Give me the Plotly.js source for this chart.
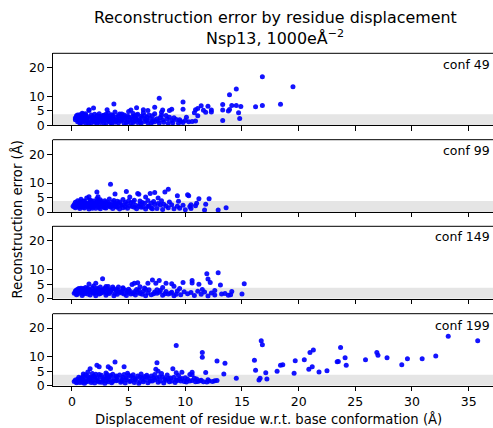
<!DOCTYPE html>
<html>
<head>
<meta charset="utf-8">
<script src="https://cdn.plot.ly/plotly-3.0.1.min.js"></script>
<style>html,body{margin:0;padding:0;overflow:hidden;background:#fff;}</style>
</head>
<body>
<div id="chart" style="width:493px;height:428px;"></div>
<script>
const confLabels = ["conf 49", "conf 99", "conf 149", "conf 199"];
const xTickVals = [0, 5, 10, 15, 20, 25, 30, 35];
const yTickVals = [0, 5, 10, 20];
const bandTop = 3.8;

const conf49Points = [
[0.3,1.9],[0.5,1.2],[0.7,0.8],[0.9,1.5],[1.2,0.6],[1.4,1.1],[1.7,0.9],[1.9,1.4],[2.2,0.7],[2.5,1.0],[2.7,1.6],[3.0,0.8],[3.3,1.3],[3.5,0.5],[3.8,1.1],[4.1,0.9],[4.3,1.5],[4.6,0.7],[4.9,1.2],[5.2,0.8],[5.5,1.4],[5.8,1.0],[6.1,0.6],[6.4,1.3],[6.7,0.9],[7.0,0.7],[7.3,1.2],[7.7,0.8],[8.1,1.1],[8.5,0.6],[8.9,0.9],[9.4,0.7],[9.8,1.0],
[0.4,2.8],[0.6,2.3],[0.8,3.1],[1.1,2.0],[1.3,2.6],[1.6,2.2],[1.8,3.0],[2.1,2.4],[2.3,1.9],[2.6,2.7],[2.9,2.1],[3.1,3.2],[3.4,2.5],[3.6,2.0],[3.9,2.9],[4.2,2.3],[4.4,2.6],[4.7,2.0],[5.0,2.8],[5.3,2.2],[5.6,2.5],[5.9,1.9],[6.2,2.7],[6.5,2.1],[6.9,2.4],[7.2,1.8],[7.5,2.3],[8.0,1.9],[8.4,2.2],[8.8,1.7],[9.2,2.0],
[0.5,3.6],[0.9,4.2],[1.2,3.4],[1.5,5.1],[2.0,3.8],[2.4,4.0],[2.8,3.5],[3.2,4.3],[3.5,3.7],[3.8,4.6],[4.2,3.9],[4.6,3.6],[5.0,4.8],[5.4,4.1],[5.8,3.8],[6.3,4.4],[6.8,3.6],[7.3,4.0],[7.9,3.5],
[1.5,5.4],[1.9,6.0],[3.1,5.4],[5.7,6.1],[6.3,5.4],[6.7,5.1],[1.2,4.0],[5.2,5.3],[3.7,7.4],
[1.0,2.9],[2.0,1.1],[3.0,2.6],[4.0,1.8],[4.5,3.1],[5.5,3.2],[6.0,1.5],[7.8,2.7],[8.3,3.4],[9.6,1.4],[10.3,1.2],[0.7,2.1],[2.4,3.1],[3.3,1.7],
[0.6,1.6],[0.8,0.9],[1.0,1.3],[1.3,1.8],[1.5,0.8],[1.8,2.0],[2.0,1.6],[2.3,1.2],[2.6,2.0],[2.8,0.7],[3.1,1.9],[3.4,1.0],[3.7,2.2],[3.9,1.4],[4.4,1.9],[4.8,0.9],[5.1,1.8],[5.4,1.0],[5.7,2.1],[6.0,1.2],[6.6,1.7],[7.1,1.3],[7.6,1.6],
[0.4,3.3],[0.7,3.7],[1.0,3.9],[1.4,3.0],[1.7,3.6],[2.2,3.3],[2.5,2.3],[3.0,3.8],[3.3,2.9],[3.6,3.4],[4.1,3.3],[4.4,3.9],[4.9,3.3],[5.3,2.9],[5.7,3.5],[6.1,3.1],[6.6,2.8],[7.1,3.3],[8.6,2.8],[9.0,2.6],[9.5,1.9],[10.0,1.7],[0.3,2.5],[0.9,2.6],[1.9,2.6],[2.7,3.3],[4.7,2.6],[6.4,3.4],
[16.8,16.9],[19.5,13.4],[14.5,12.6],[13.9,10.6],[9.8,8.1],[7.7,9.4],[18.4,7.3],[16.8,6.9],[16.2,6.4],[14.9,6.5],[14.5,6.9],[14.1,6.9],[13.3,7.2],[13.3,5.3],[13.8,5.0],[13.9,5.5],[14.7,4.4],[14.8,2.4],[13.3,1.7],[11.4,6.8],[12.0,6.6],[11.6,5.2],[11.8,4.5],[12.3,5.3],[12.3,4.6],[10.9,5.4],[11.1,5.8],[10.8,4.4],[11.1,3.3],[10.9,1.5],[10.6,1.3],[9.8,5.6],[10.1,2.8],[8.8,5.6],[8.6,5.1],[7.9,4.5],[8.0,5.3],[7.3,6.3]
];

const conf99Points = [
[0.1,2.0],[0.3,1.5],[0.5,2.3],[0.7,1.2],[0.9,1.8],[1.1,1.4],[1.3,2.1],[1.5,1.0],[1.7,1.6],[1.9,2.2],[2.1,1.3],[2.3,1.9],[2.5,1.1],[2.8,1.7],[3.0,1.4],[3.3,2.0],[3.6,1.2],[3.9,1.8],[4.2,1.0],[4.5,1.5],[4.9,1.3],[5.3,1.9],[5.7,1.1],[6.1,1.6],[6.5,1.0],[7.0,1.4],[7.5,1.2],[8.0,0.9],[8.5,1.5],[9.0,1.1],[9.5,1.3],[10.0,0.8],[10.5,1.2],
[0.2,2.6],[0.4,3.0],[0.6,2.8],[0.8,3.3],[1.0,2.5],[1.2,3.1],[1.4,2.7],[1.6,3.4],[1.8,2.9],[2.0,3.2],[2.2,2.6],[2.4,3.5],[2.7,3.0],[2.9,2.7],[3.2,3.3],[3.5,2.4],[3.8,2.9],[4.1,3.1],[4.4,2.5],[4.8,2.8],[5.2,3.2],[5.6,2.3],[6.0,2.7],[6.4,3.0],[6.8,2.2],[7.3,2.6],[7.8,2.4],[8.3,2.1],[8.8,2.5],[9.3,2.0],[9.8,2.3],[10.4,1.9],[10.9,2.2],
[0.5,3.9],[0.8,4.4],[1.0,3.7],[1.3,4.8],[1.6,4.1],[1.9,3.8],[2.2,4.6],[2.5,4.2],[2.9,3.9],[3.3,4.5],[3.7,4.0],[4.0,3.7],[4.5,4.3],[5.0,3.9],[5.5,4.1],[6.0,3.8],[6.7,4.0],[7.2,3.6],[7.9,3.9],[8.6,3.5],[9.4,3.7],
[0.2,1.8],[0.4,2.1],[0.6,1.6],[0.8,2.0],[1.0,1.6],[1.2,2.3],[1.4,1.7],[1.6,2.4],[1.8,1.3],[2.0,1.9],[2.2,2.3],[2.4,1.6],[2.6,2.1],[2.9,1.5],[3.1,2.4],[3.4,1.7],[3.7,2.2],[4.0,1.6],[4.3,2.3],[4.7,1.8],[5.1,2.2],[5.5,1.6],[5.9,2.0],[6.3,1.7],[6.7,1.9],[7.1,1.1],
[0.3,3.4],[0.7,3.6],[0.9,2.9],[1.1,3.8],[1.5,3.0],[1.7,3.9],[2.1,3.0],[2.3,4.0],[2.6,3.6],[3.0,3.4],[3.6,3.5],[4.2,3.5],[4.7,3.4],[5.4,3.5],[6.2,3.3],[7.0,3.0],[7.6,2.9],[8.1,2.7],[0.5,2.6],[1.3,2.9],[1.9,2.5],[2.5,2.8],[3.3,2.8],[3.9,2.5],
[3.4,9.6],[4.8,7.1],[8.5,7.9],[8.2,6.9],[2.2,6.9],[3.8,6.25],[5.8,6.4],[5.9,6.1],[6.9,6.4],[7.3,6.7],[10.2,6.0],[10.3,5.6],[9.3,5.6],[11.2,4.6],[12.1,4.6],[11.8,2.7],[12.9,0.7],[13.6,1.5],[11.7,0.7],[1.5,5.3],[2.3,5.3],[5.1,5.2],[6.5,5.2],[7.6,4.8],[11.0,3.0],[10.5,2.5]
];

const conf149Points = [
[0.2,1.9],[0.4,1.4],[0.6,2.2],[0.9,1.1],[1.1,1.7],[1.4,2.4],[1.6,1.3],[1.9,1.9],[2.1,1.0],[2.4,1.6],[2.7,2.1],[3.0,1.2],[3.3,1.8],[3.7,1.0],[4.0,1.5],[4.4,2.0],[4.8,1.1],[5.2,1.6],[5.6,1.3],[6.0,1.8],[6.5,1.0],[7.0,1.4],[7.5,1.9],[8.0,1.2],[8.5,1.6],[9.0,1.0],[9.6,1.4],[10.2,1.7],[10.8,1.1],[11.4,1.5],[12.0,0.9],[12.6,1.3],[13.2,1.6],[13.8,1.2],
[0.3,2.7],[0.5,3.2],[0.8,2.9],[1.0,3.5],[1.3,2.6],[1.5,3.1],[1.8,3.7],[2.0,2.8],[2.3,3.3],[2.6,3.0],[2.9,3.6],[3.2,2.7],[3.5,3.2],[3.9,2.9],[4.3,2.5],[4.7,3.0],[5.1,2.7],[5.5,2.4],[5.9,2.9],[6.3,2.6],[6.8,3.1],[7.3,2.3],[7.8,2.8],[8.3,2.5],[8.8,2.2],[9.3,2.7],[9.9,2.4],[10.5,2.1],[11.1,2.6],[11.7,2.3],[12.3,2.0],
[0.3,2.1],[0.5,1.6],[0.7,2.5],[0.9,1.9],[1.2,2.2],[1.4,1.6],[1.7,2.3],[2.0,2.0],[2.2,2.4],[2.5,1.8],[2.8,2.5],[3.1,1.9],[3.4,2.3],[3.8,1.8],[4.2,2.2],[4.6,1.6],[5.0,2.1],[5.4,1.8],[5.8,2.2],[6.2,1.5],[6.7,2.0],[7.2,1.7],[7.7,2.2],[8.2,1.7],[8.7,1.9],[9.2,1.5],
[0.4,3.0],[0.6,3.5],[1.1,3.1],[1.4,3.6],[1.6,2.9],[2.2,3.6],[2.4,2.9],[2.8,3.2],[3.1,3.5],[3.4,2.9],[3.7,3.4],[4.0,3.2],[4.5,3.4],[5.0,3.3],[5.7,3.2],[6.5,3.3],[7.5,3.1],[0.8,2.4],[1.9,2.7],[2.6,2.3],[3.3,2.6],[4.9,2.5],
[1.5,5.1],[2.1,5.3],[2.7,6.9],[3.0,4.2],[3.2,4.2],[1.9,4.4],[2.5,4.0],[3.6,4.0],[5.8,5.5],[5.3,4.9],[5.5,5.3],[6.0,4.1],[6.7,5.3],[7.1,6.5],[7.4,5.3],[7.7,6.3],[8.3,5.3],[8.8,5.2],[9.0,4.3],[9.8,5.6],[10.6,6.3],[10.6,5.4],[11.2,5.0],[11.9,8.6],[12.9,9.0],[12.0,6.8],[12.2,5.6],[13.1,4.7],[15.2,5.2],[15.0,1.6],[14.1,2.5],[4.5,3.8],[1.2,3.9],[0.8,3.6],[4.1,4.0],[6.4,3.7],[8.0,3.9],[9.5,3.5],[11.5,3.2],[12.6,2.8],[13.5,1.8],[14.0,1.4]
];

const conf199Points = [
[0.2,1.5],[0.4,1.0],[0.6,1.8],[0.9,1.2],[1.1,0.8],[1.4,1.5],[1.7,1.1],[2.0,0.9],[2.3,1.6],[2.6,1.2],[2.9,0.8],[3.2,1.4],[3.5,1.0],[3.9,1.7],[4.3,1.2],[4.7,0.9],[5.1,1.5],[5.5,1.1],[5.9,0.8],[6.3,1.4],[6.7,1.0],[7.1,1.6],[7.6,1.2],[8.1,0.9],[8.6,1.4],[9.1,1.1],[9.6,1.6],[10.1,1.3],[10.6,1.8],[11.1,1.5],[11.6,1.4],[12.1,1.6],[12.6,1.7],
[0.5,2.2],[0.8,2.7],[1.0,3.2],[1.3,2.4],[1.6,2.9],[1.9,3.4],[2.2,2.6],[2.5,3.1],[2.8,2.3],[3.1,2.8],[3.4,3.5],[3.7,2.5],[4.0,3.0],[4.4,2.2],[4.8,2.7],[5.2,3.3],[5.6,2.4],[6.0,2.9],[6.4,3.2],[6.8,2.5],[7.2,2.8],[7.7,3.1],[8.2,2.3],[8.7,2.7],[9.2,2.0],[9.7,2.5],[10.2,2.2],[10.8,2.6],[11.4,1.9],[12.0,2.1],[12.8,1.8],
[1.2,3.8],[1.8,4.2],[2.4,3.9],[3.0,4.4],[3.6,4.0],[4.2,3.7],[4.9,4.3],[5.4,3.8],[6.1,4.1],[6.6,3.6],[7.3,3.9],[7.9,4.2],[8.4,3.7],[9.4,3.5],[10.4,3.9],
[0.3,2.0],[0.5,1.4],[0.7,1.1],[1.0,1.9],[1.2,1.3],[1.5,2.1],[1.8,1.6],[2.1,2.0],[2.4,1.3],[2.7,1.9],[3.0,1.6],[3.3,2.1],[3.6,1.5],[4.0,2.0],[4.4,1.6],[4.8,2.1],[5.2,1.7],[5.6,2.0],[6.0,1.5],[6.4,2.0],[6.9,1.6],[7.3,2.1],[7.8,1.6],[8.3,1.9],[8.8,1.6],[9.3,1.8],[9.9,1.5],[10.4,1.6],[10.9,1.4],[11.3,1.7],[11.9,1.3],[12.4,1.5],
[0.9,2.5],[1.4,3.3],[1.7,2.6],[2.0,3.0],[2.6,3.6],[2.9,2.9],[3.3,3.0],[3.9,3.4],[4.5,2.9],[5.0,3.6],[5.4,2.8],[5.8,3.4],[6.2,2.6],[6.6,3.0],[7.0,3.4],[7.5,2.6],[8.0,3.0],[8.5,2.4],[9.0,2.9],[9.5,2.3],[10.0,2.8],[11.0,2.3],[0.6,2.9],[2.1,4.0],[3.1,3.9],[4.6,3.9],
[9.2,14.0],[11.5,11.5],[11.5,9.9],[12.8,8.6],[13.5,7.8],[13.4,4.1],[14.5,2.6],[11.8,4.6],[7.5,8.0],[7.4,5.7],[7.6,5.0],[3.8,8.2],[4.6,6.6],[2.2,7.1],[2.4,6.6],[3.2,6.6],[3.4,6.0],[1.6,5.9],[1.4,4.8],[1.0,4.1],[8.9,5.9],[9.2,4.5],[9.7,4.7],[10.6,4.7],[10.6,3.8],
[33.2,17.2],[35.8,15.6],[16.7,15.6],[16.8,14.2],[23.7,13.3],[21.3,12.4],[21.0,11.5],[16.1,8.8],[16.2,5.4],[17.1,4.5],[17.2,2.3],[16.5,2.0],[16.6,2.6],[18.1,5.0],[18.4,7.1],[18.6,7.3],[19.7,8.7],[19.6,4.3],[20.5,9.0],[20.9,5.7],[21.2,6.6],[21.8,4.8],[22.5,5.2],[23.4,8.3],[23.5,8.4],[24.1,9.7],[24.2,7.1],[25.9,9.0],[26.9,11.5],[27.0,10.6],[27.8,9.7],[29.1,7.3],[29.6,9.4],[30.9,9.4],[32.1,10.3]
];

const allPoints = [conf49Points, conf99Points, conf149Points, conf199Points];

const W = 493, H = 428;
const leftPx = 52.7;
const panels = [[53.3,125.3],[139.7,212],[226.3,298.7],[313.7,385.7]];
const labelY = [64, 150, 236.7, 325];
const font = "DejaVu Sans, Liberation Sans, sans-serif";

const traces = [];
const layout = {
  width: W, height: H,
  margin: {l:0, r:0, t:0, b:0},
  paper_bgcolor: "#fff", plot_bgcolor: "rgba(0,0,0,0)",
  showlegend: false,
  font: {family: font, size: 12.5, color: "#000"},
  shapes: [], annotations: []
};

allPoints.forEach((pts, i) => {
  const n = i === 0 ? "" : String(i+1);
  traces.push({
    type: "scatter", mode: "markers",
    x: pts.map(p => p[0]), y: pts.map(p => p[1]),
    xaxis: "x"+n, yaxis: "y"+n,
    marker: {color: "rgb(0,0,255)", size: 5, opacity: 0.92, line: {width: 0}},
    hoverinfo: "skip"
  });
  const [top, bot] = panels[i];
  layout["xaxis"+n] = {
    domain: [leftPx/W, 1], anchor: "y"+n,
    range: [-1.7, 37.15], tickvals: xTickVals,
    showticklabels: i === 3,
    ticks: "outside", ticklen: 4.4, tickwidth: 1, tickcolor: "#000",
    showline: true, linecolor: "#000", linewidth: 1,
    showgrid: false, zeroline: false,
    tickfont: {size: 12.5, family: font, color: "#000"}
  };
  layout["yaxis"+n] = {
    domain: [(H-bot)/H, (H-top)/H], anchor: "x"+n,
    range: [0, 25], tickvals: yTickVals,
    ticks: "outside", ticklen: 4.4, tickwidth: 1, tickcolor: "#000",
    showline: true, linecolor: "#000", linewidth: 1,
    showgrid: false, zeroline: false,
    tickfont: {size: 12.5, family: font, color: "#000"}
  };
  layout.shapes.push({
    type: "rect", xref: "x"+n+" domain", yref: "y"+n,
    x0: 0, x1: 1, y0: 0, y1: bandTop,
    fillcolor: "#e5e5e5", line: {width: 0}, layer: "below"
  });
  layout.shapes.push({
    type: "line", xref: "x"+n+" domain", yref: "y"+n+" domain",
    x0: 0, x1: 1, y0: 1, y1: 1,
    line: {color: "#000", width: 1}
  });
  layout.annotations.push({
    text: confLabels[i], xref: "paper", yref: "paper",
    x: 492/W, y: (H-labelY[i])/H, xanchor: "right", yanchor: "middle",
    showarrow: false, font: {size: 12.5, family: font, color: "#000"}
  });
});

layout.annotations.push({
  text: "Reconstruction error by residue displacement", xref: "paper", yref: "paper",
  x: 275/W, y: (H-18)/H, xanchor: "center", yanchor: "middle", showarrow: false,
  font: {size: 15.9, family: font, color: "#000"}
});
layout.annotations.push({
  text: "Nsp13, 1000eÅ<sup>−2</sup>", xref: "paper", yref: "paper",
  x: 275/W, y: (H-38)/H, xanchor: "center", yanchor: "middle", showarrow: false,
  font: {size: 15.9, family: font, color: "#000"}
});
layout.annotations.push({
  text: "Displacement of residue w.r.t. base conformation (Å)", xref: "paper", yref: "paper",
  x: 268/W, y: (H-419)/H, xanchor: "center", yanchor: "middle", showarrow: false,
  font: {size: 13.2, family: font, color: "#000"}
});
layout.annotations.push({
  text: "Reconstruction error (Å)", xref: "paper", yref: "paper",
  x: 16/W, y: (H-219.5)/H, xanchor: "center", yanchor: "middle", showarrow: false,
  textangle: -90, font: {size: 13.2, family: font, color: "#000"}
});

Plotly.newPlot("chart", traces, layout, {displayModeBar: false, staticPlot: true});
</script>
</body>
</html>
